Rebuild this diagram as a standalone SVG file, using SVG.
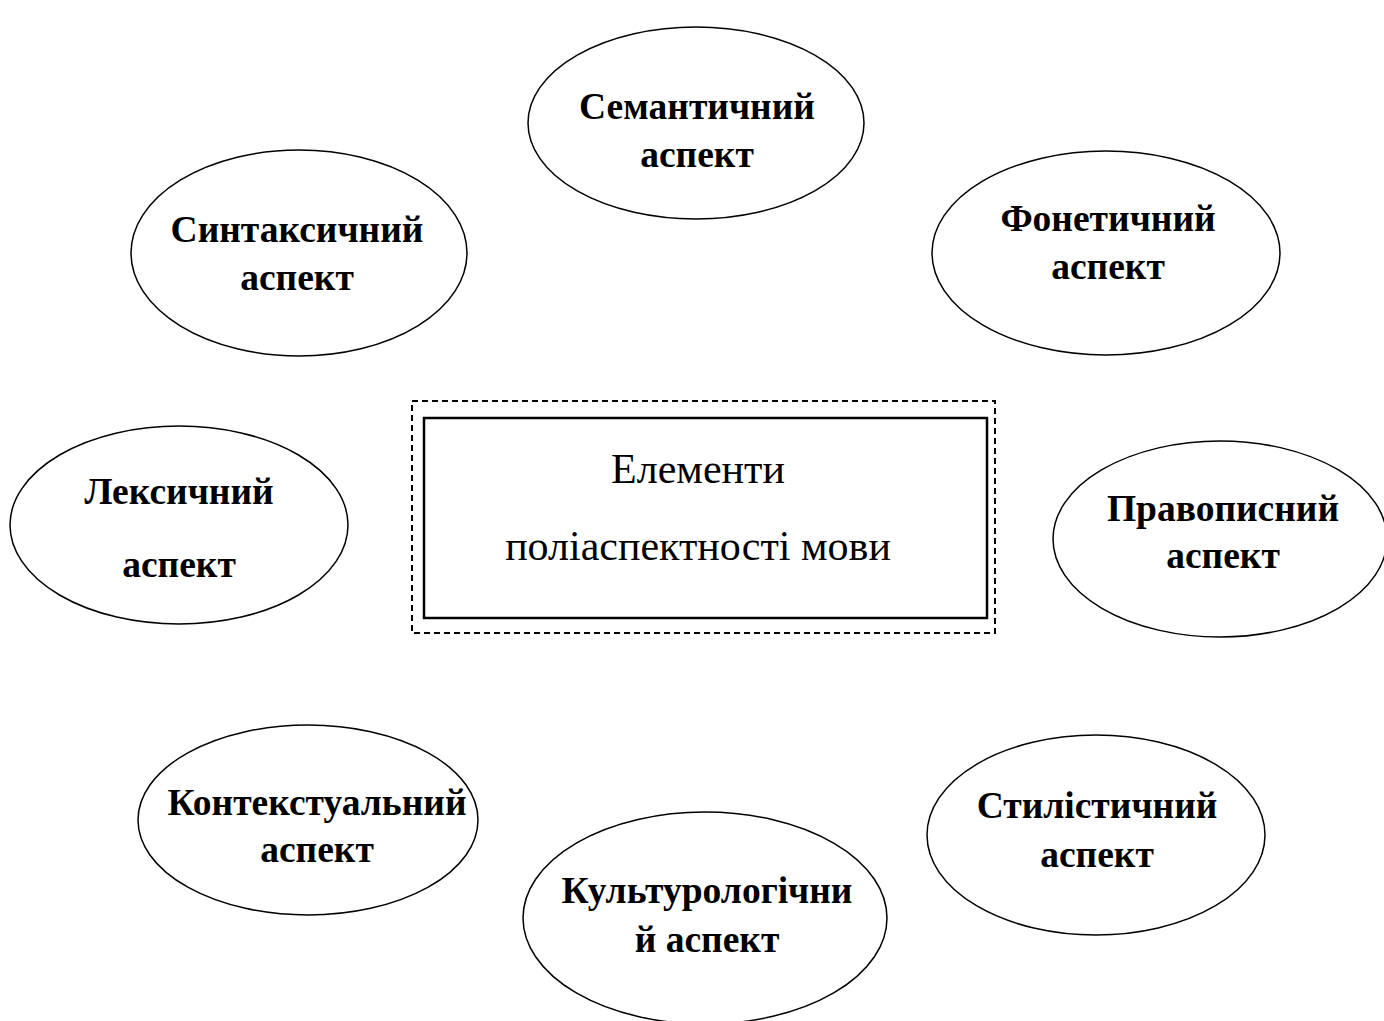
<svg xmlns="http://www.w3.org/2000/svg" width="1384" height="1021" viewBox="0 0 1384 1021">
<style>
.el{fill:#fff;stroke:#000;stroke-width:1.5}
.lb{font-family:"Liberation Serif","Times New Roman",serif;font-weight:bold;font-size:37.5px;text-anchor:middle;fill:#000}
.ct{font-family:"Liberation Serif","Times New Roman",serif;font-size:42px;text-anchor:middle;fill:#000}
</style>
<rect width="1384" height="1021" fill="#fff"/>
<g id="center">
<rect x="412" y="401" width="583" height="232" fill="none" stroke="#000" stroke-width="2" stroke-dasharray="6,4"/>
<rect x="424" y="418" width="563" height="200" fill="none" stroke="#000" stroke-width="2.5"/>
<text class="ct" x="698" y="483">Елементи</text>
<text class="ct" x="698" y="560">поліаспектності мови</text>
</g>
<g id="semantic"><ellipse class="el" cx="696" cy="123" rx="168" ry="96"/>
<text class="lb" x="697" y="119">Семантичний</text><text class="lb" x="697" y="167">аспект</text></g>
<g id="syntax"><ellipse class="el" cx="299" cy="253" rx="168" ry="103"/>
<text class="lb" x="297" y="242">Синтаксичний</text><text class="lb" x="297" y="290">аспект</text></g>
<g id="phonetic"><ellipse class="el" cx="1106" cy="253" rx="174" ry="102"/>
<text class="lb" x="1108" y="231">Фонетичний</text><text class="lb" x="1108" y="279">аспект</text></g>
<g id="lexical"><ellipse class="el" cx="179" cy="525" rx="169" ry="99"/>
<text class="lb" x="179" y="504">Лексичний</text><text class="lb" x="179" y="577">аспект</text></g>
<g id="orthographic"><ellipse class="el" cx="1220" cy="539" rx="167" ry="98"/>
<text class="lb" x="1223" y="521">Правописний</text><text class="lb" x="1223" y="568">аспект</text></g>
<g id="contextual"><ellipse class="el" cx="308" cy="820" rx="170" ry="95"/>
<text class="lb" x="317" y="815">Контекстуальний</text><text class="lb" x="317" y="862">аспект</text></g>
<g id="stylistic"><ellipse class="el" cx="1096" cy="835" rx="169" ry="100"/>
<text class="lb" x="1097" y="818">Стилістичний</text><text class="lb" x="1097" y="867">аспект</text></g>
<g id="cultural"><ellipse class="el" cx="705" cy="918" rx="182" ry="106"/>
<text class="lb" x="707" y="903">Культурологічни</text><text class="lb" x="707" y="952">й аспект</text></g>
<g id="connectors"></g>
</svg>
